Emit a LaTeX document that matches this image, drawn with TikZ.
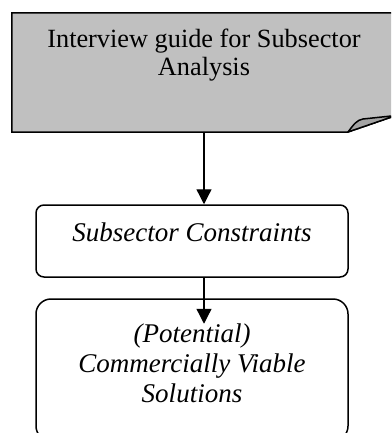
\documentclass[tikz,border=0pt]{standalone}
\usepackage{fontspec}
\setmainfont{Liberation Serif}
\usetikzlibrary{arrows.meta}
\definecolor{notegray}{HTML}{C0C0C0}
\definecolor{flapgray}{HTML}{A4A4A4}
\tikzset{
  box/.style={draw, line width=1.5pt, rounded corners=#1, inner sep=0pt},
  lbl/.style={align=center, inner sep=0pt, font=\fontsize{26.3}{27.5}\selectfont},
  ilbl/.style={align=center, inner sep=0pt, font=\fontsize{27}{30}\selectfont\itshape},
  flow/.style={line width=1.3pt, -{Triangle[width=15pt,length=15pt]}}
}
\begin{document}
\begin{tikzpicture}[x=1pt,y=-1pt]
\useasboundingbox (0,0) rectangle (391,433);
\clip (0,0) rectangle (391,433);
% note shape (folded corner)
\node[minimum width=384pt, minimum height=119pt, inner sep=0pt] (note) at (204,72.5) {};
\coordinate (cutA) at (348,132);
\coordinate (cutB) at (396,115.5);
\filldraw[fill=notegray, line width=1.5pt, line join=miter]
  (note.north west) -- (note.north east) -- (cutB) -- (cutA) -- (note.south west) -- cycle;
\filldraw[fill=flapgray, line width=1.5pt, line join=round]
  (cutA) .. controls (354,124) and (357,120) .. (363,119) -- (cutB) -- cycle;
\node[lbl, anchor=base] (t1) at (204,75.5) {Interview guide for Subsector\\Analysis};
% boxes
\node[box=8pt, minimum width=312pt, minimum height=72pt] (b2) at (192,241) {};
\node[ilbl, anchor=base] (t2) at (192,241.5) {Subsector Constraints};
\node[box=15pt, minimum width=312pt, minimum height=142pt] (b3) at (192,370) {};
\node[ilbl, anchor=base] (t3) at (192,402) {(Potential)\\Commercially Viable\\Solutions};
% arrows
\draw[flow] (note.south) -- (note.south |- b2.north);
\draw[flow] (note.south |- b2.south) -- ++(0,46);
\end{tikzpicture}
\end{document}
